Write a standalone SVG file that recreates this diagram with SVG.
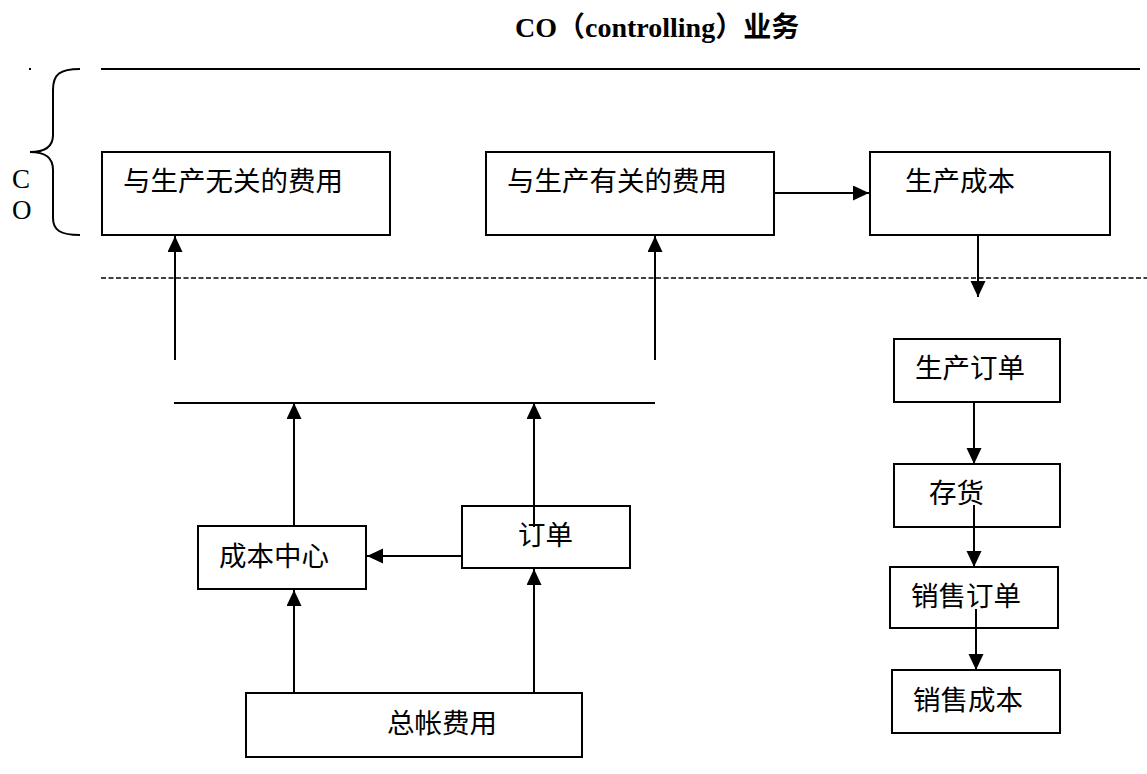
<svg xmlns="http://www.w3.org/2000/svg" width="1147" height="774" viewBox="0 0 1147 774">
<style>
.box{fill:#fff;stroke:#000;stroke-width:2}
.ln{fill:none;stroke:#000;stroke-width:2}
.arr{fill:none;stroke:#000;stroke-width:2;marker-end:url(#ah)}
.t{font-family:"Noto Sans CJK SC","Noto Sans",sans-serif;font-size:27.5px;fill:#000}
.s{font-family:"Liberation Serif","Noto Sans CJK SC",serif;font-size:27px;fill:#000}
</style>
<defs>
<marker id="ah" markerUnits="userSpaceOnUse" markerWidth="17" markerHeight="16" refX="16" refY="7.5" orient="auto">
<path d="M0,0 L16,7.5 L0,15 z" fill="#000"/>
</marker>
</defs>
<text x="515" y="37" class="s" style="font-weight:bold;font-size:28px">CO（controlling）业务</text>
<g id="frame">
<rect x="29" y="68" width="2" height="2" fill="#000"/>
<line x1="101" y1="69" x2="1140" y2="69" class="ln"/>
<line x1="101" y1="278" x2="1147" y2="278" stroke="#000" stroke-width="1.6" stroke-dasharray="5,2.5"/>
<path d="M80,69 C60,69 53,74 53,90 L53,135 C53,147 45,152 30,152 C45,152 53,157 53,170 L53,218 C53,230 60,235 80,235" class="ln" stroke-width="1.6"/>
<text x="12" y="188" class="s">C</text>
<text x="12" y="219" class="s">O</text>
</g>
<g id="n1"><rect x="102" y="152" width="288" height="83" class="box"/><text x="123" y="191" class="t">与生产无关的费用</text></g>
<g id="n2"><rect x="486" y="152" width="288" height="83" class="box"/><text x="507" y="191" class="t">与生产有关的费用</text></g>
<g id="n3"><rect x="870" y="152" width="240" height="83" class="box"/><text x="905" y="191" class="t">生产成本</text></g>
<g id="n4"><rect x="198" y="526" width="168" height="63" class="box"/><text x="219" y="566" class="t">成本中心</text></g>
<g id="n5"><rect x="462" y="506" width="168" height="62" class="box"/><text x="518" y="545" class="t">订单</text></g>
<g id="n6"><rect x="246" y="693" width="336" height="64" class="box"/><text x="387" y="733" class="t">总帐费用</text></g>
<g id="n7"><rect x="894" y="339" width="166" height="63" class="box"/><text x="915" y="378" class="t">生产订单</text></g>
<g id="n8"><rect x="894" y="464" width="166" height="63" class="box"/><text x="929" y="503" class="t">存货</text></g>
<g id="n9"><rect x="890" y="567" width="168" height="61" class="box"/><text x="911" y="606" class="t">销售订单</text></g>
<g id="n10"><rect x="892" y="670" width="168" height="63" class="box"/><text x="913" y="710" class="t">销售成本</text></g>
<g id="connectors">
<line x1="174" y1="403" x2="655" y2="403" class="ln"/>
<line x1="175" y1="360" x2="175" y2="236" class="arr"/>
<line x1="655" y1="360" x2="655" y2="236" class="arr"/>
<line x1="774" y1="193" x2="869" y2="193" class="arr"/>
<line x1="978" y1="235" x2="978" y2="297" class="arr"/>
<line x1="294" y1="526" x2="294" y2="403" class="arr"/>
<line x1="534" y1="527" x2="534" y2="403" class="arr"/>
<line x1="462" y1="556" x2="367" y2="556" class="arr"/>
<line x1="294" y1="693" x2="294" y2="590" class="arr"/>
<line x1="534" y1="693" x2="534" y2="569" class="arr"/>
<line x1="974" y1="402" x2="974" y2="464" class="arr"/>
<line x1="974" y1="505" x2="974" y2="567" class="arr"/>
<line x1="976" y1="609" x2="976" y2="670" class="arr"/>
</g>
</svg>
